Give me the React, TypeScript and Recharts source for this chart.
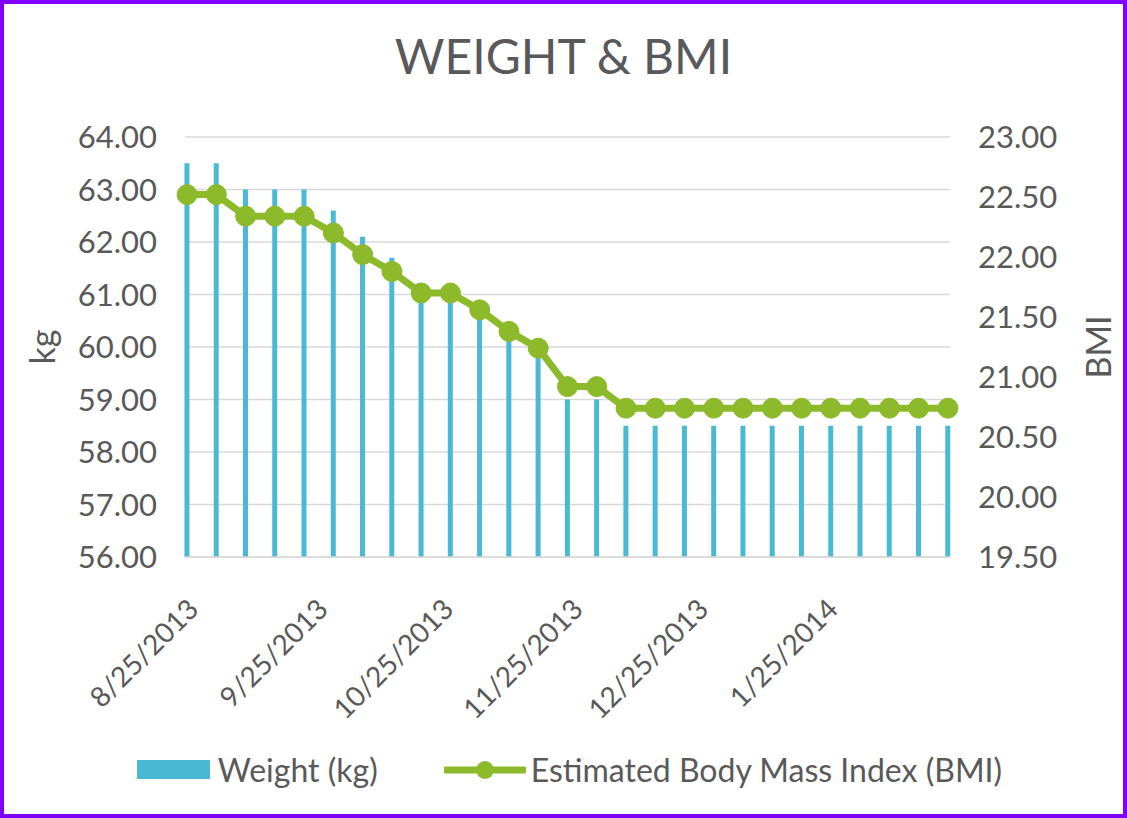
import { ComposedChart, Bar, Line, XAxis, YAxis, CartesianGrid, Legend } from "recharts";

// weekly weigh-ins
const DATES = [
  "2013-08-25", "2013-09-01", "2013-09-08", "2013-09-15", "2013-09-22", "2013-09-29",
  "2013-10-06", "2013-10-13", "2013-10-20", "2013-10-27", "2013-11-03", "2013-11-10",
  "2013-11-17", "2013-11-24", "2013-12-01", "2013-12-08", "2013-12-15", "2013-12-22",
  "2013-12-29", "2014-01-05", "2014-01-12", "2014-01-19", "2014-01-26", "2014-02-02",
  "2014-02-09", "2014-02-16", "2014-02-23",
];
const WEIGHT = [
  63.5, 63.5, 63.0, 63.0, 63.0, 62.6, 62.1, 61.7, 61.2, 61.2, 60.8, 60.3, 59.9, 59.0,
  59.0, 58.5, 58.5, 58.5, 58.5, 58.5, 58.5, 58.5, 58.5, 58.5, 58.5, 58.5, 58.5,
];
const BMI = [
  22.52, 22.52, 22.34, 22.34, 22.34, 22.2, 22.02, 21.88, 21.7, 21.7, 21.56, 21.38, 21.24, 20.92,
  20.92, 20.74, 20.74, 20.74, 20.74, 20.74, 20.74, 20.74, 20.74, 20.74, 20.74, 20.74, 20.74,
];
const X_TICKS = ["2013-08-25", "2013-09-25", "2013-10-25", "2013-11-25", "2013-12-25", "2014-01-25"];
const KG_TICKS = [56, 57, 58, 59, 60, 61, 62, 63, 64];
const BMI_TICKS = [19.5, 20, 20.5, 21, 21.5, 22, 22.5, 23];

const BAR = "#4ab9d3";
const LINE = "#8dba2b";
const TEXT = "#595959";
const GRID = "#d9d9d9";
const FONT = "Lato, 'Open Sans', sans-serif";

const DAY = 86400000;
const utc = (s: string) => {
  const [y, m, d] = s.split("-").map(Number);
  return Date.UTC(y, m - 1, d);
};
const T0 = utc(DATES[0]);
const toDay = (s: string) => (utc(s) - T0) / DAY;
const fmtDay = (v: number) => {
  const d = new Date(T0 + v * DAY);
  return `${d.getUTCMonth() + 1}/${d.getUTCDate()}/${d.getUTCFullYear()}`;
};

const data = DATES.map((s, i) => ({ day: toDay(s), weight: WEIGHT[i], bmi: BMI[i] }));
const lastDay = data[data.length - 1].day;

const axisLabel = (text: string, dx: number) => (props: any) => {
  const vb = props.viewBox;
  const cx = vb.x + dx;
  const cy = vb.y + vb.height / 2;
  return (
    <text x={cx} y={cy} transform={`rotate(-90 ${cx} ${cy})`} textAnchor="middle"
      dominantBaseline="central" fill={TEXT} fontSize={34} fontFamily={FONT}>
      {text}
    </text>
  );
};

const LegendBox = () => (
  <div style={{ display: "flex", alignItems: "center", justifyContent: "center",
    fontFamily: FONT, fontSize: 32, color: TEXT, paddingLeft: 12 }}>
    <span style={{ display: "inline-block", width: 73, height: 19, background: BAR, marginRight: 8 }} />
    <span style={{ marginRight: 66 }}>Weight (kg)</span>
    <svg width={82} height={24} style={{ marginRight: 5 }}>
      <line x1={2} y1={12} x2={80} y2={12} stroke={LINE} strokeWidth={7} strokeLinecap="round" />
      <circle cx={41} cy={12} r={9} fill={LINE} />
    </svg>
    <span>Estimated Body Mass Index (BMI)</span>
  </div>
);

export default function App() {
  return (
    <div style={{ position: "fixed", left: 0, top: 0, width: 1127, height: 818, background: "#fff" }}>
      <div style={{ position: "absolute", left: 0, top: 27, width: 1127, textAlign: "center",
        fontFamily: FONT, fontSize: 48, color: TEXT }}>
        WEIGHT &amp; BMI
      </div>
      <ComposedChart width={1127} height={818} data={data}
        margin={{ top: 137, right: 0, bottom: 0, left: 0 }}
        style={{ position: "absolute", left: 0, top: 0 }}>
        <CartesianGrid yAxisId="kg" vertical={false} stroke={GRID} strokeWidth={1.5} />
        <XAxis type="number" dataKey="day" domain={[-0.5, lastDay + 0.5]} ticks={X_TICKS.map(toDay)}
          tickFormatter={fmtDay} interval={0} angle={-45} textAnchor="end" height={261}
          tickLine={false} tickSize={0} tickMargin={40} dx={-1}
          axisLine={{ stroke: GRID, strokeWidth: 1.5 }}
          tick={{ fill: TEXT, fontSize: 28, fontFamily: FONT }} />
        <YAxis yAxisId="kg" orientation="left" width={185} domain={[56, 64]} ticks={KG_TICKS}
          tickFormatter={(v) => v.toFixed(2)} axisLine={false} tickLine={false} tickSize={0}
          tickMargin={28} tick={{ fill: TEXT, fontSize: 31, fontFamily: FONT }}
          label={{ content: axisLabel("kg", 41) }} />
        <YAxis yAxisId="bmi" orientation="right" width={177} domain={[19.5, 23]} ticks={BMI_TICKS}
          tickFormatter={(v) => v.toFixed(2)} axisLine={false} tickLine={false} tickSize={0}
          tickMargin={28} tick={{ fill: TEXT, fontSize: 31, fontFamily: FONT }}
          label={{ content: axisLabel("BMI", 147) }} />
        <Legend verticalAlign="middle" align="center" layout="horizontal" content={<LegendBox />}
          wrapperStyle={{ top: 750, left: 0, width: 1127 }} />
        <Bar yAxisId="kg" dataKey="weight" name="Weight (kg)" fill={BAR} barSize={5}
          isAnimationActive={false} />
        <Line yAxisId="bmi" dataKey="bmi" name="Estimated Body Mass Index (BMI)" stroke={LINE}
          strokeWidth={7} dot={{ r: 10, fill: LINE, stroke: LINE, strokeWidth: 1 }}
          activeDot={false} isAnimationActive={false} />
      </ComposedChart>
      <div style={{ position: "absolute", inset: 0, border: "4px solid #8000ff", pointerEvents: "none" }} />
    </div>
  );
}
